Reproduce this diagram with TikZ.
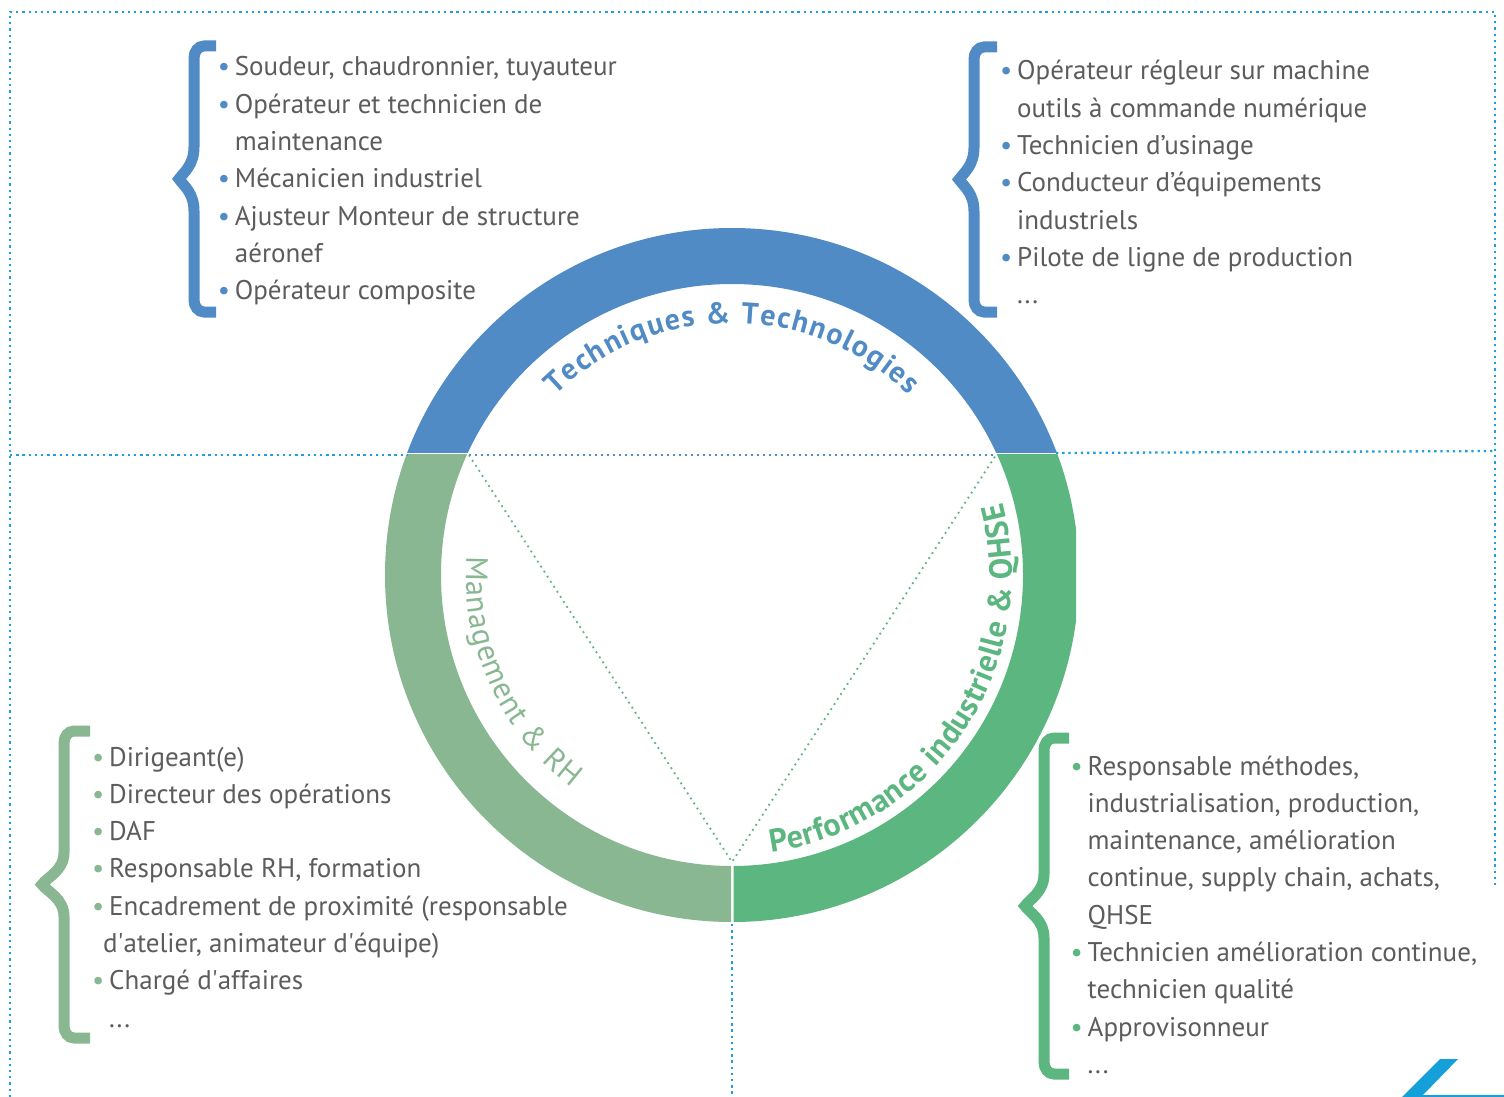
\documentclass[tikz,border=0pt]{standalone}
\usepackage{fontspec}
\setmainfont{PT Sans}
\usetikzlibrary{decorations.text,calc}
\definecolor{ringblue}{RGB}{80,139,197}
\definecolor{greenL}{RGB}{136,183,145}
\definecolor{greenR}{RGB}{92,182,127}
\definecolor{txtgray}{RGB}{92,92,92}
\definecolor{frameblue}{RGB}{30,160,218}
\definecolor{logoblue}{RGB}{22,160,218}
\newcommand\bul[1]{\makebox[17pt][l]{\textcolor{#1}{\textbullet}}}
\newcommand\ind{\hspace*{17pt}}
\newcommand\lnx[1]{\hbox{#1}}
\newcommand\lstbox[1]{\vtop{\baselineskip=37.3pt\lineskiplimit=-100pt\lineskip=0pt #1}}
% #1 colour, #2 stem x, #3 tip x, #4 right end x, #5 top y, #6 bottom y
\newcommand\bracedraw[6]{%
  \pgfmathsetmacro\bm{(#5+#6)/2}%
  \draw[bracestyle,#1] (#4,#5+6) -- (#2+10,#5+6) to[out=180,in=90] (#2,#5+18)
    -- (#2,\bm-32) .. controls (#2,\bm-14) and (#3+11,\bm-7) .. (#3+6,\bm)
    .. controls (#3+11,\bm+7) and (#2,\bm+14) .. (#2,\bm+32)
    -- (#2,#6-18) to[out=-90,in=180] (#2+10,#6-6) -- (#4,#6-6);}
\begin{document}
\begin{tikzpicture}[x=1pt,y=-1pt,
  bracestyle/.style={line width=11pt,line cap=butt,line join=miter},
  dotline/.style={frameblue,line width=2.3pt,dash pattern=on 2.3pt off 3.9pt},
  innerdot/.style={line width=2pt,dash pattern=on 2pt off 4pt},
  listtext/.style={anchor=base west,inner sep=0pt,text=txtgray,
    font=\fontsize{27}{37.3}\selectfont},
  arclabel/.style={decorate}]
\useasboundingbox (0,0) rectangle (1504,1097);
\fill[white] (0,0) rectangle (1504,1097);
\coordinate (C) at (732,575);
% ring segments
\begin{scope}
  \clip (0,0) rectangle (1504,452);
  \fill[ringblue,even odd rule] (C) circle[radius=347] (C) circle[radius=291];
\end{scope}
\begin{scope}
  \clip (0,454.5) rectangle (731,1097);
  \fill[greenL,even odd rule] (C) circle[radius=347] (C) circle[radius=291];
\end{scope}
\begin{scope}
  \clip (733.5,454.5) rectangle (1076,1097);
  \fill[greenR,even odd rule] (C) circle[radius=347] (C) circle[radius=291];
\end{scope}
% frame dotted lines
\coordinate (f1) at (10,1097);
\coordinate (f2) at (10,12);
\coordinate (f3) at (1495,12);
\coordinate (f4) at (1495,885);
\coordinate (m1) at (10,455);
\coordinate (m2) at (408,455);
\coordinate (m3) at (1056,453);
\coordinate (m4) at (1495,451);
\coordinate (b1) at (732,924);
\coordinate (b2) at (732,1097);
\coordinate (iL) at (469,455);
\coordinate (iR) at (996,455);
\coordinate (iB) at (732,862);
\draw[dotline] (f1) -- (f2) -- (f3) -- (f4);
\draw[dotline] (m1) -- (m2);
\draw[dotline] (m3) -- (m4);
\draw[dotline] (b1) -- (b2);
\draw[innerdot,ringblue] (iL) -- (iR);
\draw[innerdot,greenR,line width=1.8pt,dash pattern=on 1.8pt off 4.2pt] (iL) -- (iB) -- (iR);
% arc labels
\path[arclabel,decoration={text along path,text align=fit to path,
  text={|\fontsize{30}{30}\selectfont\bfseries\color{ringblue}|Techniques {\&} Technologies}}]
  (C) ++(225.5:252) arc[start angle=225.5,end angle=314.5,radius=252];
\path[arclabel,decoration={text along path,text align=fit to path,
  text={|\fontsize{31}{31}\selectfont\color{greenL}|Management {\&} RH}}]
  (C) ++(184:266) arc[start angle=184,end angle=127,radius=266];
\path[arclabel,decoration={text along path,text align=fit to path,
  text={|\fontsize{32}{32}\selectfont\bfseries\color{greenR}|Performance industrielle {\&} QHSE}}]
  (C) ++(82:280) arc[start angle=82,end angle=-15,radius=280];
% braces
\bracedraw{ringblue}{194}{173}{216}{40}{318}
\bracedraw{ringblue}{974}{953}{997}{41}{318}
\bracedraw{greenL}{64}{36}{90}{725}{1044}
\bracedraw{greenR}{1044}{1019}{1069}{732}{1080}
% lists
\node[listtext] (tl) at (217.7,76) {\lstbox{%
\lnx{\bul{ringblue}Soudeur, chaudronnier, tuyauteur}
\lnx{\bul{ringblue}Opérateur et technicien de}
\lnx{\ind maintenance}
\lnx{\bul{ringblue}Mécanicien industriel}
\lnx{\bul{ringblue}Ajusteur Monteur de structure}
\lnx{\ind aéronef}
\lnx{\bul{ringblue}Opérateur composite}}};
\node[listtext] (tr) at (1000,80) {\lstbox{%
\lnx{\bul{ringblue}Opérateur régleur sur machine}
\lnx{\ind outils à commande numérique}
\lnx{\bul{ringblue}Technicien d’usinage}
\lnx{\bul{ringblue}Conducteur d’équipements}
\lnx{\ind industriels}
\lnx{\bul{ringblue}Pilote de ligne de production}
\lnx{\ind ...}}};
\node[listtext] (bl) at (92,766) {\lstbox{%
\lnx{\bul{greenL}Dirigeant(e)}
\lnx{\bul{greenL}Directeur des opérations}
\lnx{\bul{greenL}DAF}
\lnx{\bul{greenL}Responsable RH, formation}
\lnx{\bul{greenL}Encadrement de proximité (responsable}
\lnx{\hspace*{11pt}d\textquotesingle atelier, animateur d\textquotesingle équipe)}
\lnx{\bul{greenL}Chargé d\textquotesingle affaires}
\lnx{\ind ...}}};
\node[listtext] (br) at (1070.5,775) {\lstbox{%
\lnx{\bul{greenR}Responsable méthodes,}
\lnx{\ind industrialisation, production,}
\lnx{\ind maintenance, amélioration}
\lnx{\ind continue, supply chain, achats,}
\lnx{\ind QHSE}
\lnx{\bul{greenR}Technicien amélioration continue,}
\lnx{\ind technicien qualité}
\lnx{\bul{greenR}Approvisonneur}
\lnx{\ind ...}}};
% logo corner
\fill[logoblue] (1402,1097) -- (1440,1059) -- (1458,1059) -- (1421,1097) -- cycle;
\draw[logoblue,line width=1.5pt] (1421,1096.2) -- (1504,1096.2);
\end{tikzpicture}
\end{document}
